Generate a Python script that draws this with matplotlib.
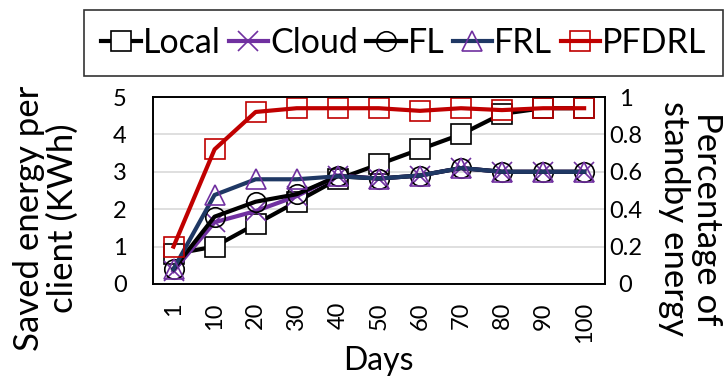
import matplotlib.pyplot as plt
import numpy as np

plt.rcParams['font.family'] = ['Lato', 'DejaVu Sans']

days = ['1', '10', '20', '30', '40', '50', '60', '70', '80', '90', '100']
local = [0.8, 1.0, 1.6, 2.2, 2.8, 3.2, 3.6, 4.0, 4.55, 4.7, 4.7]
cloud = [0.35, 1.65, 1.95, 2.35, 2.9, 2.82, 2.9, 3.1, 3.0, 3.0, 3.0]
fl = [0.4, 1.8, 2.2, 2.4, 2.88, 2.82, 2.9, 3.1, 3.0, 3.0, 3.0]
frl = [0.4, 2.38, 2.8, 2.8, 2.88, 2.82, 2.9, 3.1, 3.0, 3.0, 3.0]
pfdrl = [1.0, 3.6, 4.6, 4.7, 4.7, 4.7, 4.63, 4.7, 4.65, 4.7, 4.7]
left_ticks = [0, 1, 2, 3, 4, 5]
right_ticks = [0, 0.2, 0.4, 0.6, 0.8, 1]
right_labels = ['0', '0.2', '0.4', '0.6', '0.8', '1']

purple = '#7030A0'
navy = '#1F3864'
red = '#C00000'

fig = plt.figure(figsize=(7.25, 3.81), dpi=100)
ax = fig.add_axes([0.211, 0.2546, 0.623, 0.4908])
x = np.arange(len(days))

lw = 3
ms = 14
ax.plot(x, local, color='black', lw=lw, marker='s', ms=ms, mfc='white', mec='black', mew=1.2, label='Local', zorder=3)
ax.plot(x, cloud, color=purple, lw=lw, marker='x', ms=ms, mec=purple, mew=1.2, label='Cloud', zorder=4)
ax.plot(x, fl, color='black', lw=lw, marker='o', ms=ms, mfc='none', mec='black', mew=1.2, label='FL', zorder=5)
ax.plot(x, frl, color=navy, lw=lw, marker='^', ms=ms, mfc='none', mec=purple, mew=1.2, label='FRL', zorder=6)
ax.plot(x, pfdrl, color=red, lw=lw, marker='s', ms=ms, mfc='none', mec=red, mew=1.2, label='PFDRL', zorder=7)

ax.set_xlim(-0.5, len(days) - 0.5)
ax.set_ylim(0, 5)
ax.set_yticks(left_ticks)
ax.set_xticks(x)
ax.set_xticklabels(days, rotation=90)
ax.tick_params(axis='x', labelsize=17, length=0, pad=13)
ax.tick_params(axis='y', labelsize=17, length=0, pad=19)
ax.grid(axis='y', color='#d9d9d9', lw=1.2)
ax.set_axisbelow(True)
for s in ax.spines.values():
    s.set_linewidth(1.2)
ax.set_ylabel('Saved energy per\nclient (KWh)', fontsize=25, linespacing=1.05)
ax.yaxis.set_label_coords(-0.165, 0.35)
ax.set_xlabel('Days', fontsize=23, labelpad=2)

ax2 = ax.twinx()
ax2.set_ylim(0, 1)
ax2.set_yticks(right_ticks)
ax2.set_yticklabels(right_labels, ha='center')
ax2.tick_params(axis='y', labelsize=17, length=0, pad=15)
for s in ax2.spines.values():
    s.set_linewidth(1.2)
ax2.set_ylabel('Percentage of\nstandby energy', fontsize=25, rotation=270, linespacing=1.05, va='center')
ax2.yaxis.set_label_coords(1.19, 0.35)

# legend sits above the axes, centred over the figure's right part
handles, labels = ax.get_legend_handles_labels()
fig.legend(handles, labels, loc='center', bbox_to_anchor=(0.557, 0.887),
           ncol=5, fontsize=24.5, frameon=True, fancybox=False, edgecolor='black',
           handlelength=1.15, handletextpad=0.06, columnspacing=0.25, markerscale=1,
           borderpad=0.5, borderaxespad=0).get_frame().set_linewidth(1.2)

fig.savefig('out.png', dpi=100)
